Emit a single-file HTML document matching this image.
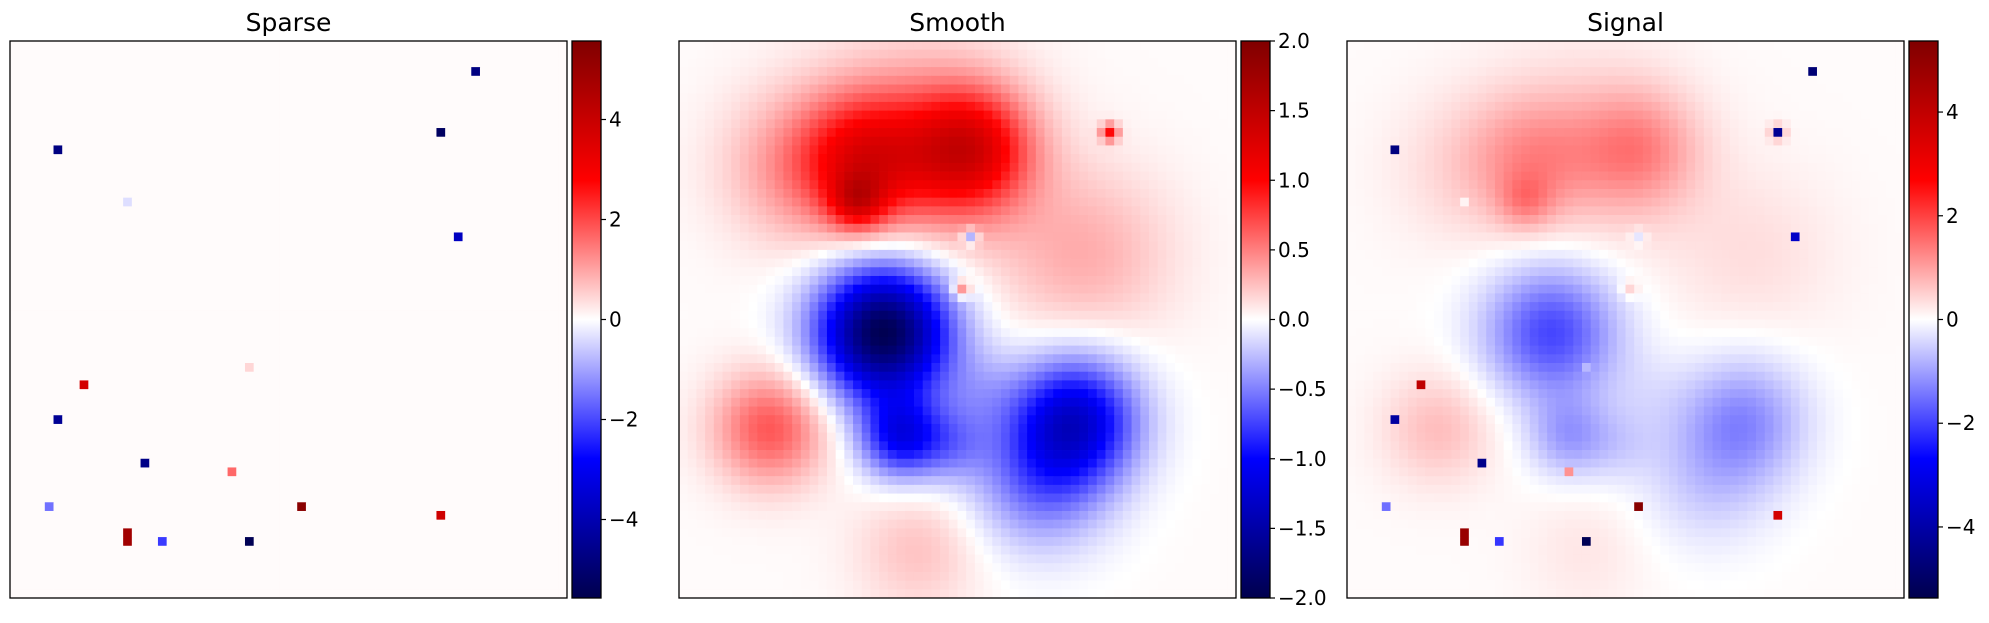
<!DOCTYPE html>
<html><head><meta charset="utf-8">
<style>
html,body{margin:0;padding:0;background:#fff;}
body{width:1989px;height:619px;overflow:hidden;font-family:"DejaVu Sans","Liberation Sans",sans-serif;}
</style></head>
<body>
<svg id="fig" width="1989" height="619" xmlns="http://www.w3.org/2000/svg"></svg>
<script>
// ---- data ----
const gridSize = 64;
// sparse spikes
const spikeCols = [53, 49, 5, 13, 51, 27, 8, 5, 15, 25, 4, 33, 49, 13, 13, 17, 27];
const spikeRows = [3, 10, 12, 18, 22, 37, 39, 43, 48, 49, 53, 53, 54, 56, 57, 57, 57];
const spikeVals = [-4.8, -5.3, -4.8, -0.4, -3.8, 0.4, 3.7, -4.5, -4.7, 1.6, -1.6, 5.3, 3.8, 4.8, 4.8, -2.2, -5.5];
// smooth field components (gaussian blobs)
const blobCols = [20, 21, 33, 13, 27, 23, 25, 45, 41, 34, 10, 46, 27, 49, 32, 33, 31];
const blobRows = [18, 13, 12, 14, 12, 33, 45, 43, 50, 40, 44, 24, 58, 10, 28, 22, 46];
const blobAmps = [0.7, 0.8, 1.05, 0.35, 0.45, -2.0, -1.0, -1.2, -0.55, -0.2, 0.65, 0.3, 0.22, 0.9, 0.6, -0.6, -0.35];
const blobSigmas = [2.2, 5, 4.8, 6, 8, 5.3, 3.3, 5, 5.5, 3.5, 4.5, 7, 5, 0.7, 0.7, 0.6, 3];
// colorbar ticks
const sparseTicks = [-4, -2, 0, 2, 4];
const sparseTickLabels = ["\u22124", "\u22122", "0", "2", "4"];
const smoothTicks = [-2, -1.5, -1, -0.5, 0, 0.5, 1, 1.5, 2];
const smoothTickLabels = ["\u22122.0", "\u22121.5", "\u22121.0", "\u22120.5", "0.0", "0.5", "1.0", "1.5", "2.0"];
const signalTicks = [-4, -2, 0, 2, 4];
const signalTickLabels = ["\u22124", "\u22122", "0", "2", "4"];
const panelTitles = ["Sparse", "Smooth", "Signal"];
const panelVmax = [5.57, 2.0, 5.37];

// ---- build fields ----
const sparse = [], smooth = [], signal = [];
for (let r = 0; r < gridSize; r++) {
  sparse.push(new Array(gridSize).fill(0));
  smooth.push(new Array(gridSize).fill(0));
  signal.push(new Array(gridSize).fill(0));
}
for (let i = 0; i < spikeVals.length; i++) sparse[spikeRows[i]][spikeCols[i]] = spikeVals[i];
for (let r = 0; r < gridSize; r++) for (let c = 0; c < gridSize; c++) {
  let v = 0;
  for (let k = 0; k < blobAmps.length; k++) {
    const dx = c - blobCols[k], dy = r - blobRows[k];
    v += blobAmps[k] * Math.exp(-(dx*dx + dy*dy) / (2*blobSigmas[k]*blobSigmas[k]));
  }
  smooth[r][c] = v;
  signal[r][c] = v + sparse[r][c];
}
const fields = [sparse, smooth, signal];
const tickSets = [sparseTicks, smoothTicks, signalTicks];
const tickLabelSets = [sparseTickLabels, smoothTickLabels, signalTickLabels];

// seismic colormap
function seismic(t) {
  t = Math.max(0, Math.min(1, t));
  const stops = [[0,0,0,0.3],[0.25,0,0,1],[0.5,1,1,1],[0.75,1,0,0],[1,0.5,0,0]];
  for (let i = 0; i < stops.length-1; i++) {
    const a = stops[i], b = stops[i+1];
    if (t <= b[0]) {
      const f = (t - a[0]) / (b[0] - a[0]);
      return "rgb(" + [1,2,3].map(j => Math.round(255*(a[j] + f*(b[j]-a[j])))).join(",") + ")";
    }
  }
  return "rgb(128,0,0)";
}

const NS = "http://www.w3.org/2000/svg";
const fig = document.getElementById("fig");
const panelX = [10, 679, 1347];
const cbX = [572, 1241, 1909];
const top0 = 41, size = 557, cbW = 29;
const cell = size / gridSize;

function mk(tag, attrs, parent) {
  const e = document.createElementNS(NS, tag);
  for (const k in attrs) e.setAttribute(k, attrs[k]);
  parent.appendChild(e);
  return e;
}

const defs = mk("defs", {}, fig);
const grad = mk("linearGradient", {id: "seis", x1: "0", y1: "1", x2: "0", y2: "0"}, defs);
for (let i = 0; i <= 20; i++) mk("stop", {offset: i/20, "stop-color": seismic(i/20)}, grad);

for (let p = 0; p < 3; p++) {
  const g = mk("g", {}, fig);
  
  
  const vmax = panelVmax[p];
  const xScale = c => panelX[p] + c * cell;
  const yScale = r => top0 + r * cell;
  const colorOf = v => seismic((v + vmax) / (2*vmax) + 0.004);
  const F = fields[p];
  for (let r = 0; r < gridSize; r++) for (let c = 0; c < gridSize; c++) {
    const rc = mk("rect", {x: xScale(c).toFixed(2), y: yScale(r).toFixed(2), width: (cell+0.4).toFixed(2), height: (cell+0.4).toFixed(2), fill: colorOf(F[r][c])}, g);
    
    
  }
  const fr = mk("rect", {x: panelX[p], y: top0, width: size, height: size, fill: "none", stroke: "#000", "stroke-width": 1.3}, g);
  
  
  const t = mk("text", {x: panelX[p] + size/2, y: 31, "text-anchor": "middle", "font-size": 25, fill: "#000"}, g);
  t.textContent = panelTitles[p];
  
  
  // colorbar
  const cb = mk("g", {}, g);
  
  
  mk("rect", {x: cbX[p], y: top0, width: cbW, height: size, fill: "url(#seis)", stroke: "#000", "stroke-width": 1.3}, cb);
  const cy = v => top0 + size * (1 - (v + vmax) / (2*vmax));
  tickSets[p].forEach((v, i) => {
    const y = cy(v);
    const tk = mk("line", {x1: cbX[p] + cbW, x2: cbX[p] + cbW + 5, y1: y, y2: y, stroke: "#000", "stroke-width": 1.2}, cb);
    
    
    const lb = mk("text", {x: cbX[p] + cbW + 8, y: y + 7, "font-size": 20, fill: "#000"}, cb);
    lb.textContent = tickLabelSets[p][i];
    
    
  });
}
</script>
</body></html>
